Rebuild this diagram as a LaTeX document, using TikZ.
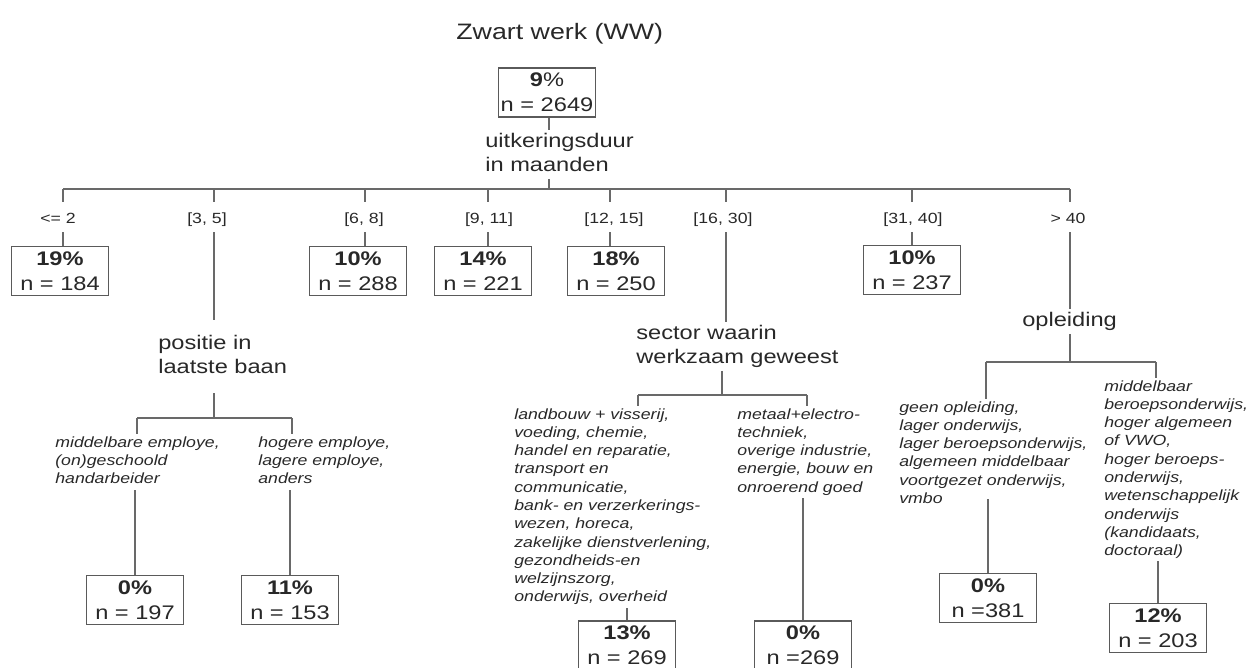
\documentclass[tikz,border=0pt]{standalone}
\usepackage{fontspec}
\setmainfont{Liberation Sans}[FakeStretch=1.2]
\usetikzlibrary{positioning, calc}
\definecolor{inktext}{RGB}{40,40,40}
\definecolor{inkline}{RGB}{105,105,105}
\definecolor{inkbox}{RGB}{90,90,90}

\begin{document}
\begin{tikzpicture}[x=0.02cm, y=-0.02cm, inner sep=0pt, text=inktext,
  treeline/.style={draw=inkline, line width=0.6pt},
  leafbox/.style={draw=inkbox, line width=0.7pt, minimum width=1.94cm,
    minimum height=0.98cm, align=center, font=\fontsize{11.2}{14.2}\selectfont},
  splitlabel/.style={anchor=north west, align=left, font=\fontsize{11.2}{13.7}\selectfont},
  cutlabel/.style={anchor=center, font=\fontsize{8.4}{10}\selectfont,
    text height=12.5pt, text depth=4.55pt},
  catlabel/.style={anchor=north west, align=left, font=\fontsize{8.4}{10.4}\selectfont\itshape}]
  \useasboundingbox (0,0) rectangle (1250,667);

  % title and root
  \node[anchor=base west, font=\fontsize{12.7}{15}\selectfont] (title) at (456,39) {Zwart werk (WW)};
  \node[leafbox] (root) at (547,92.5) {\textbf{9}\%\\n = 2649};
  \node[splitlabel] (q1) at (485,130) {\strut uitkeringsduur\\in maanden\strut};
  \coordinate (j1) at (549,189);
  \draw[treeline] (root.south -| j1) -- (q1.north -| j1);
  \draw[treeline] (q1.south -| j1) -- (j1);

  % first split: duration classes
  \foreach \tx/\lx/\lab [count=\i] in {63/58/{<= 2}, 214/207/{[3, 5]}, 365/364/{[6, 8]},
      488/489/{[9, 11]}, 610/614/{[12, 15]}, 726/723/{[16, 30]}, 912/913/{[31, 40]}, 1070/1068/{> 40}} {
    \coordinate (t\i) at (\tx,189);
    \node[cutlabel] (e\i) at (\lx,217) {\lab};
    \draw[treeline] (t\i) -- (t\i |- e\i.north);
  }
  \draw[treeline] (t1) -- (t8);

  % leaves of the first split
  \node[leafbox] (b1) at (60,271) {\textbf{19\%}\\n = 184};
  \node[leafbox] (b3) at (358,271) {\textbf{10\%}\\n = 288};
  \node[leafbox] (b4) at (483,271) {\textbf{14\%}\\n = 221};
  \node[leafbox] (b5) at (616,271) {\textbf{18\%}\\n = 250};
  \node[leafbox] (b7) at (912,270) {\textbf{10\%}\\n = 237};
  \foreach \i in {1,3,4,5,7}
    \draw[treeline] (t\i |- e\i.south) -- (t\i |- b\i.north);

  % positie in laatste baan
  \node[splitlabel] (q2) at (158,332) {\strut positie in\\laatste baan\strut};
  \coordinate (j2) at (214,418);
  \coordinate (t21) at (137,418);
  \coordinate (t22) at (292,418);
  \draw[treeline, shorten >=7pt] (t2 |- e2.south) -- (t2 |- q2.north);
  \draw[treeline, shorten <=7pt] (q2.south -| j2) -- (j2);
  \draw[treeline] (t21) -- (t22);
  \node[catlabel] (c21) at (55,434) {\strut middelbare employe,\\(on)geschoold\\handarbeider\strut};
  \node[catlabel] (c22) at (258,434) {\strut hogere employe,\\lagere employe,\\anders\strut};
  \node[leafbox] (l21) at (135,600) {\textbf{0\%}\\n = 197};
  \node[leafbox] (l22) at (290,600) {\textbf{11\%}\\n = 153};
  \draw[treeline] (t21) -- (t21 |- c21.north);
  \draw[treeline] (t22) -- (t22 |- c22.north);
  \draw[treeline] (l21.north) -- (l21.north |- c21.south);
  \draw[treeline] (l22.north) -- (l22.north |- c22.south);

  % sector waarin werkzaam geweest
  \node[splitlabel] (q3) at (636,322) {\strut sector waarin\\werkzaam geweest\strut};
  \coordinate (j3) at (722,395);
  \coordinate (t31) at (638,395);
  \coordinate (t32) at (807,395);
  \draw[treeline] (t6 |- e6.south) -- (t6 |- q3.north);
  \draw[treeline] (q3.south -| j3) -- (j3);
  \draw[treeline] (t31) -- (t32);
  \node[catlabel] (c31) at (514,406) {\strut landbouw + visserij,\\voeding, chemie,\\handel en reparatie,\\transport en\\communicatie,\\bank- en verzerkerings-\\wezen, horeca,\\zakelijke dienstverlening,\\gezondheids-en\\welzijnszorg,\\onderwijs, overheid\strut};
  \node[catlabel] (c32) at (737,406) {\strut metaal+electro-\\techniek,\\overige industrie,\\energie, bouw en\\onroerend goed\strut};
  \node[leafbox] (l31) at (627,645.5) {\textbf{13\%}\\n = 269};
  \node[leafbox] (l32) at (803,645.5) {\textbf{0\%}\\n =269};
  \draw[treeline] (t31) -- (t31 |- c31.north);
  \draw[treeline] (t32) -- (t32 |- c32.north);
  \draw[treeline] (l31.north) -- (l31.north |- c31.south);
  \draw[treeline] (l32.north) -- (l32.north |- c32.south);

  % opleiding
  \node[splitlabel] (q4) at (1022,309) {\strut opleiding\strut};
  \coordinate (j4) at (1070,362);
  \coordinate (t41) at (986,362);
  \coordinate (t42) at (1156,362);
  \draw[treeline] (t8 |- e8.south) -- (t8 |- q4.north);
  \draw[treeline] (q4.south -| j4) -- (j4);
  \draw[treeline] (t41) -- (t42);
  \node[catlabel] (c41) at (899,399) {\strut geen opleiding,\\lager onderwijs,\\lager beroepsonderwijs,\\algemeen middelbaar\\voortgezet onderwijs,\\vmbo\strut};
  \node[catlabel] (c42) at (1104,378) {\strut middelbaar\\beroepsonderwijs,\\hoger algemeen\\of VWO,\\hoger beroeps-\\onderwijs,\\wetenschappelijk\\onderwijs\\(kandidaats,\\doctoraal)\strut};
  \node[leafbox] (l41) at (988,598) {\textbf{0\%}\\n =381};
  \node[leafbox] (l42) at (1158,628) {\textbf{12\%}\\n = 203};
  \draw[treeline] (t41) -- (t41 |- c41.north);
  \draw[treeline] (t42) -- (t42 |- c42.north);
  \draw[treeline, shorten >=-6pt] (l41.north) -- (l41.north |- c41.south);
  \draw[treeline] (l42.north) -- (l42.north |- c42.south);
\end{tikzpicture}
\end{document}
